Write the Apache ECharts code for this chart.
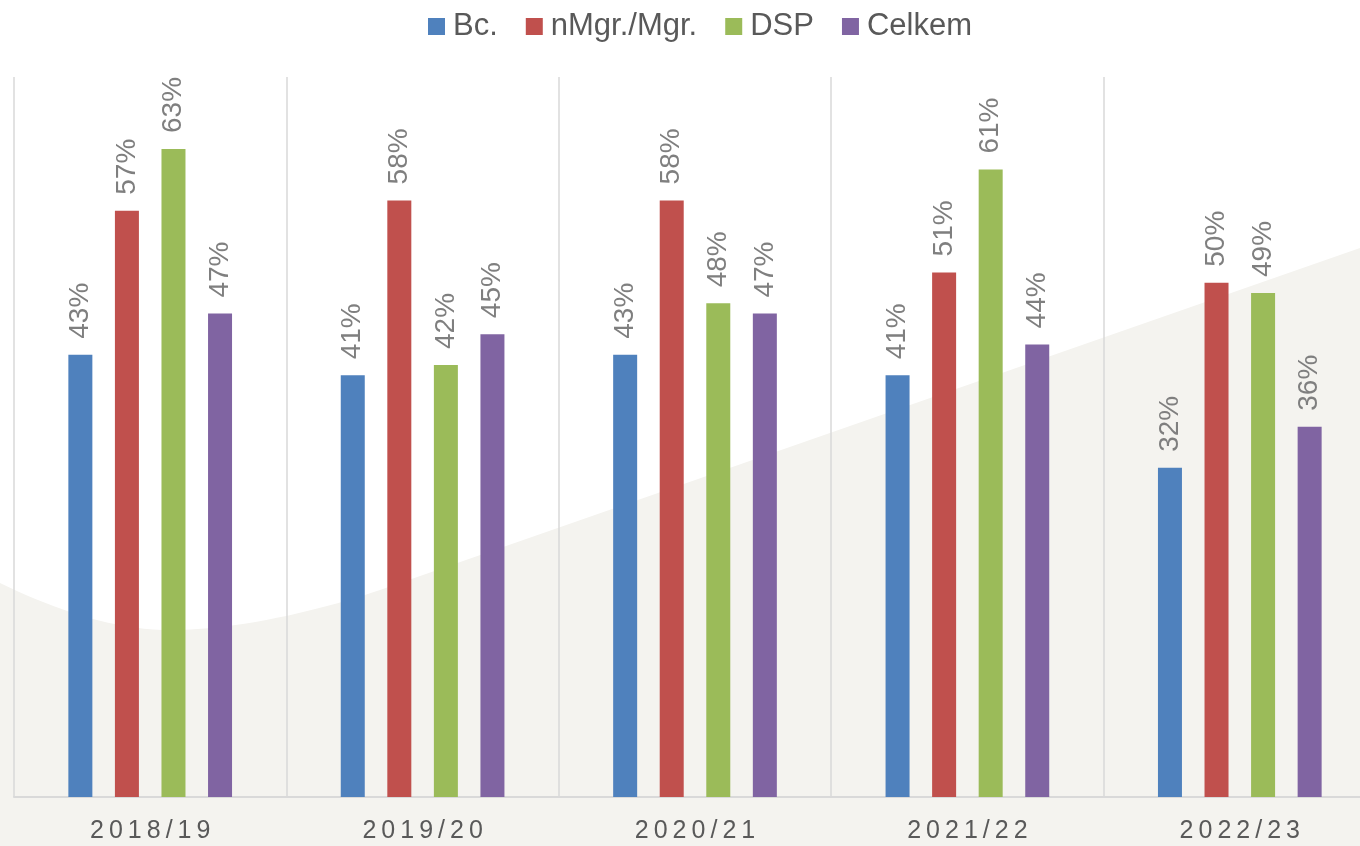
<!DOCTYPE html>
<html>
<head>
<meta charset="utf-8">
<script src="https://cdn.jsdelivr.net/npm/echarts@6/dist/echarts.min.js"></script>
<style>
  html, body { margin: 0; padding: 0; background: #fff; }
  #chart { width: 1360px; height: 846px; }
</style>
</head>
<body>
<div id="chart"></div>
<script>
  // data
  const years = ['2018/19', '2019/20', '2020/21', '2021/22', '2022/23'];
  const bc = [43, 41, 43, 41, 32];
  const mgr = [57, 58, 58, 51, 50];
  const dsp = [63, 42, 48, 61, 49];
  const celkem = [47, 45, 47, 44, 36];
  const seriesNames = ['Bc.', 'nMgr./Mgr.', 'DSP', 'Celkem'];
  const seriesColors = ['#4f81bd', '#c0504d', '#9bbb59', '#8064a2'];

  const font = 'Liberation Sans, Arial, sans-serif';

  // outline of the decorative beige backdrop (two cubic curves, then a straight rise)
  function cubic(p0, p1, p2, p3, n) {
    let pts = [];
    for (let i = 0; i <= n; i++) {
      let t = i / n, u = 1 - t;
      pts.push([
        u * u * u * p0[0] + 3 * u * u * t * p1[0] + 3 * u * t * t * p2[0] + t * t * t * p3[0],
        u * u * u * p0[1] + 3 * u * u * t * p1[1] + 3 * u * t * t * p2[1] + t * t * t * p3[1]
      ]);
    }
    return pts;
  }
  const backdrop = []
    .concat(cubic([0, 583], [60, 612], [120, 632], [180, 630], 20))
    .concat(cubic([180, 630], [250, 628], [330, 607], [380, 590], 20))
    .concat([[1360, 248], [1360, 846], [0, 846]]);

  function barSeries(name, values, color) {
    return {
      name: name,
      type: 'bar',
      data: values,
      barWidth: 24,
      barGap: '94%',
      itemStyle: { color: color },
      label: {
        show: true,
        position: 'top',
        rotate: 90,
        align: 'left',
        verticalAlign: 'middle',
        distance: 16,
        formatter: '{c}%',
        fontFamily: font,
        fontSize: 28,
        color: '#7f7f7f'
      }
    };
  }

  let myChart = echarts.init(document.getElementById('chart'));
  myChart.setOption({
    animation: false,
    color: seriesColors,
    graphic: [{
      type: 'polygon',
      z: -10,
      silent: true,
      shape: { points: backdrop },
      style: { fill: '#f4f3ef' }
    }],
    legend: {
      left: 423,
      top: 6,
      itemWidth: 17,
      itemHeight: 17,
      itemGap: 28,
      icon: 'rect',
      data: seriesNames,
      textStyle: { fontFamily: font, fontSize: 31, color: '#595959', padding: [0, 0, 0, 3] }
    },
    grid: {
      left: 14,
      right: -16,
      top: 77,
      bottom: 49,
      outerBoundsMode: 'none'
    },
    xAxis: {
      type: 'category',
      data: years,
      axisLine: { lineStyle: { color: '#d9d9d9', width: 2 } },
      axisTick: { show: false },
      splitLine: { show: true, lineStyle: { color: '#d9d9d9', width: 1.5 } },
      axisLabel: {
        margin: 22,
        fontFamily: font,
        fontSize: 25,
        color: '#595959',
        formatter: function (v) { return v.split('').join('\u2009'); }
      }
    },
    yAxis: {
      type: 'value',
      min: 0,
      max: 70,
      show: false,
      splitLine: { show: false }
    },
    series: [
      barSeries(seriesNames[0], bc, seriesColors[0]),
      barSeries(seriesNames[1], mgr, seriesColors[1]),
      barSeries(seriesNames[2], dsp, seriesColors[2]),
      barSeries(seriesNames[3], celkem, seriesColors[3])
    ]
  });
</script>
</body>
</html>
